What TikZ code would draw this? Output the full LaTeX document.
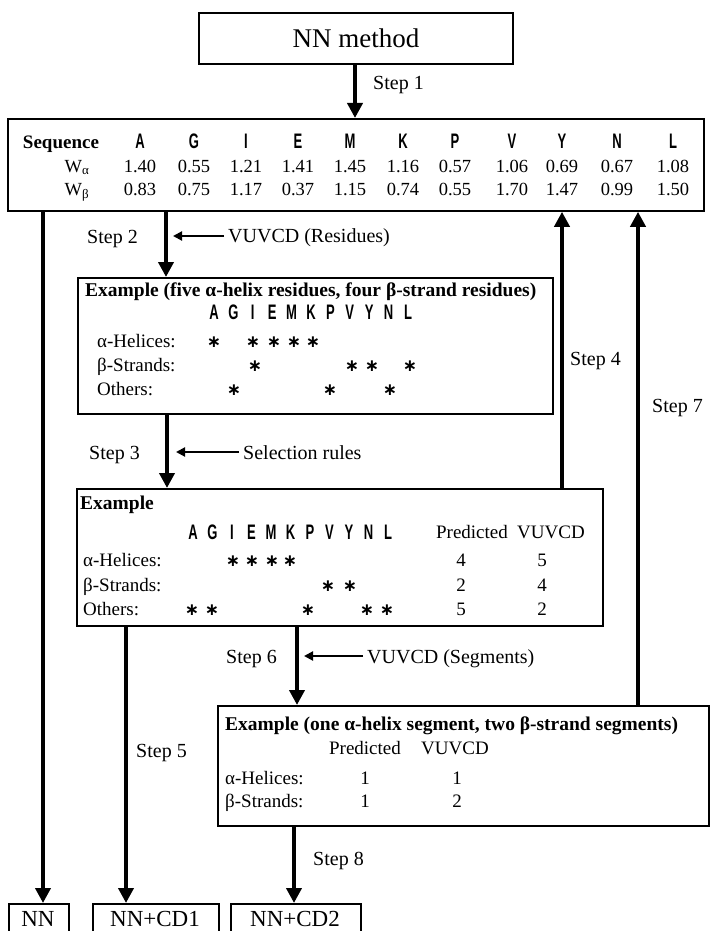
\documentclass[tikz,border=0pt]{standalone}
\usepackage{fontspec}
\setmainfont{Liberation Serif}
\newfontfamily\seqfont[FakeStretch=0.62]{Liberation Sans}
\newfontfamily\starfont{DejaVu Sans}
\usetikzlibrary{arrows.meta}
\tikzset{
  frame/.style={draw, line width=1.8pt, inner sep=0, anchor=north west},
  bigarrow/.style={line width=4.5pt, -{Triangle[length=15pt,width=15pt]}},
  sidearrow/.style={line width=2pt, -{Triangle[length=9pt,width=9pt]}, shorten <=4pt},
  txt/.style={inner sep=0, anchor=base west, font=\fontsize{20}{24}\selectfont},
  txtr/.style={inner sep=0, anchor=base east, font=\fontsize{20}{24}\selectfont},
  ttl/.style={inner sep=0, anchor=base west, font=\bfseries\fontsize{19.5}{23}\selectfont},
  rowlbl/.style={inner sep=0, anchor=base west, font=\fontsize{19}{23}\selectfont},
  cell/.style={inner sep=0, anchor=base, font=\fontsize{19}{23}\selectfont},
  aa/.style={inner sep=0, anchor=base, font=\seqfont\bfseries\fontsize{21}{24}\selectfont},
  num/.style={inner sep=0, anchor=base, font=\fontsize{18.5}{22}\selectfont},
  st/.style={inner sep=0, anchor=base, font=\starfont\bfseries\fontsize{17}{20}\selectfont},
  endbox/.style={inner sep=0, anchor=base, font=\fontsize{23}{27}\selectfont},
}
\begin{document}
\begin{tikzpicture}[x=1pt,y=-1pt]
\useasboundingbox (0,0) rectangle (710,931);
\clip (0,0) rectangle (710,931);

% ---------- boxes ----------
\node[frame, minimum width=314pt, minimum height=51pt] (nn) at (198,12) {};
\node[inner sep=0, font=\fontsize{27}{32}\selectfont] (nnt) at (nn.center) {NN method};
\node[frame, minimum width=696pt, minimum height=92pt] (seq) at (7,118) {};
\node[frame, minimum width=475pt, minimum height=136pt] (box2) at (77,277) {};
\node[frame, minimum width=526pt, minimum height=137pt] (box3) at (76,488) {};
\node[frame, minimum width=491pt, minimum height=120pt] (box4) at (217,705) {};
\node[frame, minimum width=60pt, minimum height=60pt] (nnb) at (8,903) {};
\node[frame, minimum width=126pt, minimum height=60pt] (cd1) at (92,903) {};
\node[frame, minimum width=130pt, minimum height=60pt] (cd2) at (230,903) {};
\node[endbox] (nnbt) at (38,926) {NN};
\node[endbox] (cd1t) at (155,926) {NN+CD1};
\node[endbox] (cd2t) at (295,926) {NN+CD2};

% ---------- sequence table ----------
\node[inner sep=0, anchor=base, font=\bfseries\fontsize{19}{23}\selectfont] (sqt) at (61,149) {Sequence};
\node[num] (wal) at (77,172) {W\textsubscript{α}};
\node[num] (wbl) at (77,195) {W\textsubscript{β}};
\foreach \x/\l/\a/\b [count=\i] in {140/A/1.40/0.83, 194/G/0.55/0.75, 246/I/1.21/1.17,
    298/E/1.41/0.37, 350/M/1.45/1.15, 403/K/1.16/0.74, 455/P/0.57/0.55,
    512/V/1.06/1.70, 562/Y/0.69/1.47, 617/N/0.67/0.99, 673/L/1.08/1.50}{
  \node[aa] (h\i) at (\x,149) {\l};
  \node[num] (wa\i) at (\x,172) {\a};
  \node[num] (wb\i) at (\x,195) {\b};
}

% ---------- box 2 ----------
\node[ttl] (t2) at (85,296) {Example (five α-helix residues, four β-strand residues)};
\foreach \l [count=\i] in {A,G,I,E,M,K,P,V,Y,N,L}
  \node[aa] (b2l\i) at ({214+19.4*(\i-1)},319) {\l};
\node[rowlbl] (b2a) at (97,347) {α-Helices:};
\node[rowlbl] (b2b) at (97,371) {β-Strands:};
\node[rowlbl] (b2o) at (97,395) {Others:};
\foreach \x [count=\i] in {214,253,274,294,313} \node[st] (b2sa\i) at (\x,347) {∗};
\foreach \x [count=\i] in {255,352,372,410} \node[st] (b2sb\i) at (\x,371) {∗};
\foreach \x [count=\i] in {234,330,390} \node[st] (b2so\i) at (\x,395) {∗};

% ---------- box 3 ----------
\node[ttl] (t3) at (80,509) {Example};
\foreach \l [count=\i] in {A,G,I,E,M,K,P,V,Y,N,L}
  \node[aa] (b3l\i) at ({193+19.5*(\i-1)},539) {\l};
\node[cell] (b3p) at (472,538) {Predicted};
\node[cell] (b3v) at (551,538) {VUVCD};
\node[rowlbl] (b3a) at (83,566) {α-Helices:};
\node[rowlbl] (b3b) at (83,591) {β-Strands:};
\node[rowlbl] (b3o) at (83,615) {Others:};
\foreach \x [count=\i] in {233,252,272,290} \node[st] (b3sa\i) at (\x,566) {∗};
\foreach \x [count=\i] in {328,350} \node[st] (b3sb\i) at (\x,591) {∗};
\foreach \x [count=\i] in {192,212,308,367,387} \node[st] (b3so\i) at (\x,615) {∗};
\node[cell] (b3pa) at (461,566) {4};
\node[cell] (b3va) at (542,566) {5};
\node[cell] (b3pb) at (461,591) {2};
\node[cell] (b3vb) at (542,591) {4};
\node[cell] (b3po) at (461,615) {5};
\node[cell] (b3vo) at (542,615) {2};

% ---------- box 4 ----------
\node[ttl] (t4) at (225,730) {Example (one α-helix segment, two β-strand segments)};
\node[cell] (b4p) at (365,754) {Predicted};
\node[cell] (b4v) at (455,754) {VUVCD};
\node[rowlbl] (b4a) at (225,784) {α-Helices:};
\node[rowlbl] (b4b) at (225,807) {β-Strands:};
\node[cell] (b4pa) at (365,784) {1};
\node[cell] (b4va) at (457,784) {1};
\node[cell] (b4pb) at (365,807) {1};
\node[cell] (b4vb) at (457,807) {2};

% ---------- arrow columns ----------
\coordinate (x1) at (355,0);
\coordinate (x2) at (166,0);
\coordinate (x3) at (167,0);
\coordinate (x4) at (562,0);
\coordinate (x5) at (126,0);
\coordinate (x6) at (297,0);
\coordinate (x7) at (638,0);
\coordinate (x8) at (294,0);
\coordinate (x0) at (43,0);

\draw[bigarrow] (nn.south -| x1) -- (seq.north -| x1);
\draw[bigarrow] (seq.south -| x2) -- (box2.north -| x2);
\draw[bigarrow] (box2.south -| x3) -- (box3.north -| x3);
\draw[bigarrow] (box3.north -| x4) -- (seq.south -| x4);
\draw[bigarrow] (box3.south -| x5) -- (cd1.north -| x5);
\draw[bigarrow] (box3.south -| x6) -- (box4.north -| x6);
\draw[bigarrow] (box4.north -| x7) -- (seq.south -| x7);
\draw[bigarrow] (box4.south -| x8) -- (cd2.north -| x8);
\draw[bigarrow] (seq.south -| x0) -- (nnb.north -| x0);

% ---------- step labels ----------
\node[txt] (s1) at (373,90) {Step 1};
\node[txtr] (s2) at (138,243) {Step 2};
\node[txtr] (s3) at (140,459) {Step 3};
\node[txt] (s4) at (570,365) {Step 4};
\node[txt] (s5) at (136,757) {Step 5};
\node[txtr] (s6) at (277,663) {Step 6};
\node[txt] (s7) at (652,412) {Step 7};
\node[txt] (s8) at (313,865) {Step 8};

% ---------- side inputs ----------
\node[txt] (vr) at (228,242) {VUVCD (Residues)};
\node[txt] (sr) at (243,459) {Selection rules};
\node[txt] (vs) at (367,663) {VUVCD (Segments)};
\coordinate (e2) at (173,236);
\coordinate (e3) at (176,452);
\coordinate (e6) at (304,656);
\draw[sidearrow] (vr.west |- e2) -- (e2);
\draw[sidearrow] (sr.west |- e3) -- (e3);
\draw[sidearrow] (vs.west |- e6) -- (e6);
\end{tikzpicture}
\end{document}
